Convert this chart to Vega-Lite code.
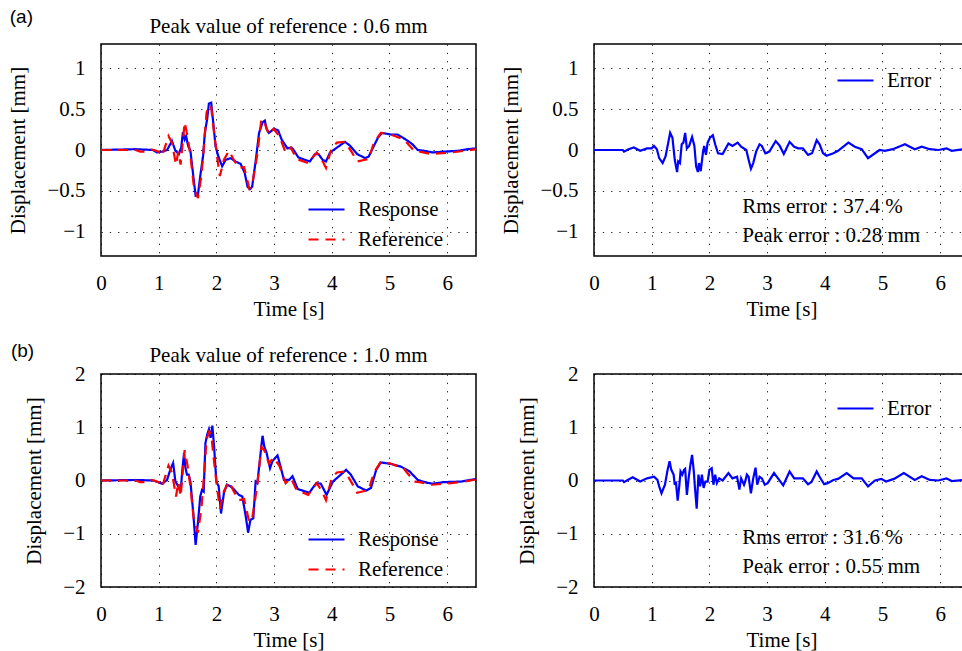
{
"$schema": "https://vega.github.io/schema/vega-lite/v6.json",
"background": "white",
"padding": {"left": 7, "top": 7, "right": 0, "bottom": 0},
"datasets": {
"a": [
{"t":0,"v":0,"s":"Response"},{"t":0.3,"v":0.005,"s":"Response"},{"t":0.6,"v":0.01,"s":"Response"},{"t":0.9,"v":0,"s":"Response"},{"t":0.97,"v":-0.03,"s":"Response"},{"t":1.06,"v":-0.02,"s":"Response"},{"t":1.145,"v":0,"s":"Response"},{"t":1.23,"v":0.11,"s":"Response"},{"t":1.29,"v":-0.01,"s":"Response"},{"t":1.35,"v":-0.05,"s":"Response"},{"t":1.39,"v":0.03,"s":"Response"},{"t":1.42,"v":0.22,"s":"Response"},{"t":1.45,"v":0.13,"s":"Response"},{"t":1.475,"v":0.17,"s":"Response"},{"t":1.51,"v":0.05,"s":"Response"},{"t":1.55,"v":-0.01,"s":"Response"},{"t":1.6,"v":-0.32,"s":"Response"},{"t":1.64,"v":-0.56,"s":"Response"},{"t":1.68,"v":-0.55,"s":"Response"},{"t":1.72,"v":-0.32,"s":"Response"},{"t":1.77,"v":-0.07,"s":"Response"},{"t":1.8,"v":0.21,"s":"Response"},{"t":1.84,"v":0.38,"s":"Response"},{"t":1.87,"v":0.57,"s":"Response"},{"t":1.91,"v":0.58,"s":"Response"},{"t":1.945,"v":0.34,"s":"Response"},{"t":1.985,"v":0.05,"s":"Response"},{"t":2.03,"v":-0.07,"s":"Response"},{"t":2.1,"v":-0.2,"s":"Response"},{"t":2.16,"v":-0.12,"s":"Response"},{"t":2.25,"v":-0.1,"s":"Response"},{"t":2.33,"v":-0.14,"s":"Response"},{"t":2.42,"v":-0.17,"s":"Response"},{"t":2.49,"v":-0.28,"s":"Response"},{"t":2.54,"v":-0.45,"s":"Response"},{"t":2.58,"v":-0.48,"s":"Response"},{"t":2.62,"v":-0.45,"s":"Response"},{"t":2.68,"v":-0.14,"s":"Response"},{"t":2.74,"v":0.21,"s":"Response"},{"t":2.8,"v":0.34,"s":"Response"},{"t":2.84,"v":0.36,"s":"Response"},{"t":2.87,"v":0.26,"s":"Response"},{"t":2.91,"v":0.21,"s":"Response"},{"t":3.0,"v":0.26,"s":"Response"},{"t":3.07,"v":0.24,"s":"Response"},{"t":3.13,"v":0.13,"s":"Response"},{"t":3.23,"v":0.02,"s":"Response"},{"t":3.3,"v":0.03,"s":"Response"},{"t":3.33,"v":0.01,"s":"Response"},{"t":3.42,"v":-0.09,"s":"Response"},{"t":3.53,"v":-0.12,"s":"Response"},{"t":3.62,"v":-0.14,"s":"Response"},{"t":3.71,"v":-0.05,"s":"Response"},{"t":3.77,"v":-0.05,"s":"Response"},{"t":3.84,"v":-0.12,"s":"Response"},{"t":3.9,"v":-0.14,"s":"Response"},{"t":3.97,"v":-0.03,"s":"Response"},{"t":4.09,"v":0.03,"s":"Response"},{"t":4.23,"v":0.1,"s":"Response"},{"t":4.32,"v":0.05,"s":"Response"},{"t":4.44,"v":-0.05,"s":"Response"},{"t":4.58,"v":-0.1,"s":"Response"},{"t":4.64,"v":-0.08,"s":"Response"},{"t":4.73,"v":0.05,"s":"Response"},{"t":4.8,"v":0.15,"s":"Response"},{"t":4.87,"v":0.21,"s":"Response"},{"t":5.02,"v":0.19,"s":"Response"},{"t":5.14,"v":0.19,"s":"Response"},{"t":5.28,"v":0.13,"s":"Response"},{"t":5.4,"v":0.07,"s":"Response"},{"t":5.49,"v":0,"s":"Response"},{"t":5.6,"v":-0.01,"s":"Response"},{"t":5.75,"v":-0.03,"s":"Response"},{"t":5.95,"v":-0.02,"s":"Response"},{"t":6.19,"v":-0.01,"s":"Response"},{"t":6.36,"v":0.01,"s":"Response"},{"t":6.5,"v":0.02,"s":"Response"},
{"t":0,"v":0,"s":"Reference"},{"t":0.45,"v":0,"s":"Reference"},{"t":0.52,"v":0.015,"s":"Reference"},{"t":0.6,"v":0,"s":"Reference"},{"t":0.68,"v":-0.02,"s":"Reference"},{"t":0.76,"v":-0.02,"s":"Reference"},{"t":0.83,"v":0.01,"s":"Reference"},{"t":0.92,"v":0,"s":"Reference"},{"t":1.0,"v":-0.02,"s":"Reference"},{"t":1.06,"v":-0.07,"s":"Reference"},{"t":1.17,"v":0.17,"s":"Reference"},{"t":1.23,"v":0.09,"s":"Reference"},{"t":1.3,"v":-0.18,"s":"Reference"},{"t":1.34,"v":-0.02,"s":"Reference"},{"t":1.38,"v":-0.18,"s":"Reference"},{"t":1.45,"v":0.34,"s":"Reference"},{"t":1.5,"v":0.17,"s":"Reference"},{"t":1.55,"v":-0.07,"s":"Reference"},{"t":1.61,"v":-0.45,"s":"Reference"},{"t":1.68,"v":-0.59,"s":"Reference"},{"t":1.74,"v":-0.32,"s":"Reference"},{"t":1.78,"v":0.01,"s":"Reference"},{"t":1.83,"v":0.46,"s":"Reference"},{"t":1.875,"v":0.55,"s":"Reference"},{"t":1.91,"v":0.52,"s":"Reference"},{"t":1.96,"v":0.21,"s":"Reference"},{"t":2.01,"v":-0.07,"s":"Reference"},{"t":2.06,"v":-0.32,"s":"Reference"},{"t":2.13,"v":-0.12,"s":"Reference"},{"t":2.22,"v":-0.01,"s":"Reference"},{"t":2.3,"v":-0.12,"s":"Reference"},{"t":2.39,"v":-0.22,"s":"Reference"},{"t":2.48,"v":-0.21,"s":"Reference"},{"t":2.57,"v":-0.47,"s":"Reference"},{"t":2.62,"v":-0.43,"s":"Reference"},{"t":2.71,"v":-0.05,"s":"Reference"},{"t":2.78,"v":0.38,"s":"Reference"},{"t":2.83,"v":0.34,"s":"Reference"},{"t":2.91,"v":0.19,"s":"Reference"},{"t":2.99,"v":0.26,"s":"Reference"},{"t":3.09,"v":0.17,"s":"Reference"},{"t":3.2,"v":-0.03,"s":"Reference"},{"t":3.29,"v":0.03,"s":"Reference"},{"t":3.39,"v":-0.11,"s":"Reference"},{"t":3.59,"v":-0.16,"s":"Reference"},{"t":3.74,"v":-0.03,"s":"Reference"},{"t":3.83,"v":-0.12,"s":"Reference"},{"t":3.9,"v":-0.22,"s":"Reference"},{"t":4.0,"v":0.03,"s":"Reference"},{"t":4.09,"v":0.09,"s":"Reference"},{"t":4.23,"v":0.1,"s":"Reference"},{"t":4.35,"v":-0.03,"s":"Reference"},{"t":4.44,"v":-0.14,"s":"Reference"},{"t":4.64,"v":-0.11,"s":"Reference"},{"t":4.73,"v":0.09,"s":"Reference"},{"t":4.85,"v":0.21,"s":"Reference"},{"t":5.02,"v":0.19,"s":"Reference"},{"t":5.25,"v":0.13,"s":"Reference"},{"t":5.43,"v":-0.01,"s":"Reference"},{"t":5.52,"v":-0.02,"s":"Reference"},{"t":5.73,"v":-0.05,"s":"Reference"},{"t":6.07,"v":-0.03,"s":"Reference"},{"t":6.3,"v":-0.01,"s":"Reference"},{"t":6.5,"v":0.01,"s":"Reference"}
],
"ae": [
{"t":0,"v":0},{"t":0.5,"v":0},{"t":0.52,"v":-0.02},{"t":0.6,"v":0.01},{"t":0.69,"v":0.03},{"t":0.8,"v":-0.01},{"t":0.92,"v":0.02},{"t":1.0,"v":0.02},{"t":1.04,"v":0.05},{"t":1.09,"v":0.01},{"t":1.13,"v":-0.1},{"t":1.19,"v":-0.16},{"t":1.24,"v":-0.08},{"t":1.32,"v":0.21},{"t":1.36,"v":0.15},{"t":1.4,"v":-0.12},{"t":1.44,"v":-0.27},{"t":1.46,"v":-0.14},{"t":1.49,"v":-0.16},{"t":1.52,"v":0.07},{"t":1.55,"v":0.09},{"t":1.58,"v":0.21},{"t":1.61,"v":0.02},{"t":1.65,"v":0.05},{"t":1.7,"v":0.16},{"t":1.74,"v":0.05},{"t":1.77,"v":-0.2},{"t":1.8,"v":-0.27},{"t":1.82,"v":-0.16},{"t":1.85,"v":-0.26},{"t":1.89,"v":-0.02},{"t":1.91,"v":0.05},{"t":1.94,"v":-0.06},{"t":1.97,"v":0.09},{"t":2.01,"v":0.15},{"t":2.06,"v":0.18},{"t":2.1,"v":0.07},{"t":2.15,"v":-0.04},{"t":2.23,"v":-0.05},{"t":2.33,"v":0.08},{"t":2.4,"v":0.05},{"t":2.49,"v":0.09},{"t":2.55,"v":0.04},{"t":2.64,"v":0},{"t":2.68,"v":-0.12},{"t":2.72,"v":-0.23},{"t":2.76,"v":-0.16},{"t":2.81,"v":-0.02},{"t":2.87,"v":0.07},{"t":2.91,"v":0.05},{"t":2.97,"v":-0.04},{"t":3.04,"v":-0.02},{"t":3.15,"v":0.11},{"t":3.22,"v":0.05},{"t":3.29,"v":-0.05},{"t":3.39,"v":0.1},{"t":3.47,"v":0.04},{"t":3.54,"v":0.02},{"t":3.62,"v":0.02},{"t":3.71,"v":-0.06},{"t":3.78,"v":-0.04},{"t":3.86,"v":0.12},{"t":3.91,"v":0.07},{"t":3.97,"v":-0.04},{"t":4.03,"v":-0.07},{"t":4.15,"v":-0.04},{"t":4.23,"v":-0.01},{"t":4.41,"v":0.09},{"t":4.52,"v":0.04},{"t":4.64,"v":0.01},{"t":4.75,"v":-0.1},{"t":4.95,"v":0},{"t":5.04,"v":-0.01},{"t":5.18,"v":0.01},{"t":5.39,"v":0.07},{"t":5.56,"v":0.01},{"t":5.68,"v":0.04},{"t":5.82,"v":0.01},{"t":5.97,"v":0},{"t":6.11,"v":0.02},{"t":6.2,"v":-0.01},{"t":6.41,"v":0.01},{"t":6.5,"v":0.01}
],
"b": [
{"t":0,"v":0,"s":"Response"},{"t":0.3,"v":0.005,"s":"Response"},{"t":0.6,"v":0.01,"s":"Response"},{"t":0.91,"v":0,"s":"Response"},{"t":1.06,"v":-0.06,"s":"Response"},{"t":1.145,"v":0.01,"s":"Response"},{"t":1.2,"v":0.2,"s":"Response"},{"t":1.25,"v":0.33,"s":"Response"},{"t":1.29,"v":-0.02,"s":"Response"},{"t":1.34,"v":-0.11,"s":"Response"},{"t":1.38,"v":-0.21,"s":"Response"},{"t":1.41,"v":0.2,"s":"Response"},{"t":1.44,"v":0.52,"s":"Response"},{"t":1.46,"v":0.26,"s":"Response"},{"t":1.49,"v":0.11,"s":"Response"},{"t":1.52,"v":0.11,"s":"Response"},{"t":1.55,"v":-0.02,"s":"Response"},{"t":1.6,"v":-0.62,"s":"Response"},{"t":1.64,"v":-1.21,"s":"Response"},{"t":1.68,"v":-0.8,"s":"Response"},{"t":1.72,"v":-0.3,"s":"Response"},{"t":1.75,"v":-0.18,"s":"Response"},{"t":1.78,"v":-0.21,"s":"Response"},{"t":1.81,"v":0.7,"s":"Response"},{"t":1.84,"v":0.86,"s":"Response"},{"t":1.87,"v":0.96,"s":"Response"},{"t":1.9,"v":0.8,"s":"Response"},{"t":1.93,"v":1.03,"s":"Response"},{"t":1.96,"v":0.64,"s":"Response"},{"t":2.0,"v":-0.02,"s":"Response"},{"t":2.04,"v":-0.11,"s":"Response"},{"t":2.08,"v":-0.62,"s":"Response"},{"t":2.13,"v":-0.24,"s":"Response"},{"t":2.18,"v":-0.08,"s":"Response"},{"t":2.23,"v":-0.1,"s":"Response"},{"t":2.3,"v":-0.16,"s":"Response"},{"t":2.39,"v":-0.27,"s":"Response"},{"t":2.45,"v":-0.3,"s":"Response"},{"t":2.51,"v":-0.68,"s":"Response"},{"t":2.55,"v":-0.98,"s":"Response"},{"t":2.59,"v":-0.74,"s":"Response"},{"t":2.64,"v":-0.71,"s":"Response"},{"t":2.68,"v":-0.02,"s":"Response"},{"t":2.71,"v":-0.05,"s":"Response"},{"t":2.76,"v":0.45,"s":"Response"},{"t":2.8,"v":0.84,"s":"Response"},{"t":2.83,"v":0.64,"s":"Response"},{"t":2.87,"v":0.52,"s":"Response"},{"t":2.93,"v":0.23,"s":"Response"},{"t":2.97,"v":0.36,"s":"Response"},{"t":3.06,"v":0.47,"s":"Response"},{"t":3.12,"v":0.23,"s":"Response"},{"t":3.17,"v":0.01,"s":"Response"},{"t":3.26,"v":0.01,"s":"Response"},{"t":3.32,"v":0.08,"s":"Response"},{"t":3.41,"v":-0.16,"s":"Response"},{"t":3.61,"v":-0.23,"s":"Response"},{"t":3.73,"v":-0.05,"s":"Response"},{"t":3.81,"v":-0.06,"s":"Response"},{"t":3.91,"v":-0.27,"s":"Response"},{"t":4.02,"v":-0.02,"s":"Response"},{"t":4.25,"v":0.2,"s":"Response"},{"t":4.33,"v":0.11,"s":"Response"},{"t":4.45,"v":-0.11,"s":"Response"},{"t":4.6,"v":-0.19,"s":"Response"},{"t":4.68,"v":-0.14,"s":"Response"},{"t":4.77,"v":0.2,"s":"Response"},{"t":4.85,"v":0.34,"s":"Response"},{"t":5.03,"v":0.31,"s":"Response"},{"t":5.2,"v":0.26,"s":"Response"},{"t":5.35,"v":0.17,"s":"Response"},{"t":5.49,"v":0.01,"s":"Response"},{"t":5.64,"v":-0.04,"s":"Response"},{"t":5.75,"v":-0.06,"s":"Response"},{"t":5.95,"v":-0.03,"s":"Response"},{"t":6.24,"v":-0.02,"s":"Response"},{"t":6.5,"v":0.03,"s":"Response"},
{"t":0,"v":0,"s":"Reference"},{"t":0.45,"v":0,"s":"Reference"},{"t":0.52,"v":0.025,"s":"Reference"},{"t":0.6,"v":0,"s":"Reference"},{"t":0.68,"v":-0.03,"s":"Reference"},{"t":0.76,"v":-0.03,"s":"Reference"},{"t":0.83,"v":0.02,"s":"Reference"},{"t":0.92,"v":0,"s":"Reference"},{"t":1.0,"v":-0.03,"s":"Reference"},{"t":1.06,"v":-0.12,"s":"Reference"},{"t":1.17,"v":0.28,"s":"Reference"},{"t":1.23,"v":0.15,"s":"Reference"},{"t":1.3,"v":-0.3,"s":"Reference"},{"t":1.34,"v":-0.03,"s":"Reference"},{"t":1.38,"v":-0.3,"s":"Reference"},{"t":1.45,"v":0.57,"s":"Reference"},{"t":1.5,"v":0.28,"s":"Reference"},{"t":1.55,"v":-0.12,"s":"Reference"},{"t":1.61,"v":-0.75,"s":"Reference"},{"t":1.68,"v":-0.98,"s":"Reference"},{"t":1.74,"v":-0.53,"s":"Reference"},{"t":1.78,"v":0.02,"s":"Reference"},{"t":1.83,"v":0.77,"s":"Reference"},{"t":1.875,"v":0.92,"s":"Reference"},{"t":1.91,"v":0.87,"s":"Reference"},{"t":1.96,"v":0.35,"s":"Reference"},{"t":2.01,"v":-0.12,"s":"Reference"},{"t":2.06,"v":-0.53,"s":"Reference"},{"t":2.13,"v":-0.2,"s":"Reference"},{"t":2.22,"v":-0.02,"s":"Reference"},{"t":2.3,"v":-0.2,"s":"Reference"},{"t":2.39,"v":-0.37,"s":"Reference"},{"t":2.48,"v":-0.35,"s":"Reference"},{"t":2.57,"v":-0.78,"s":"Reference"},{"t":2.62,"v":-0.72,"s":"Reference"},{"t":2.71,"v":-0.08,"s":"Reference"},{"t":2.78,"v":0.63,"s":"Reference"},{"t":2.83,"v":0.57,"s":"Reference"},{"t":2.91,"v":0.32,"s":"Reference"},{"t":2.99,"v":0.43,"s":"Reference"},{"t":3.09,"v":0.28,"s":"Reference"},{"t":3.2,"v":-0.05,"s":"Reference"},{"t":3.29,"v":0.05,"s":"Reference"},{"t":3.39,"v":-0.18,"s":"Reference"},{"t":3.59,"v":-0.27,"s":"Reference"},{"t":3.74,"v":-0.05,"s":"Reference"},{"t":3.83,"v":-0.2,"s":"Reference"},{"t":3.9,"v":-0.37,"s":"Reference"},{"t":4.0,"v":0.05,"s":"Reference"},{"t":4.09,"v":0.15,"s":"Reference"},{"t":4.23,"v":0.17,"s":"Reference"},{"t":4.35,"v":-0.05,"s":"Reference"},{"t":4.44,"v":-0.23,"s":"Reference"},{"t":4.64,"v":-0.18,"s":"Reference"},{"t":4.73,"v":0.15,"s":"Reference"},{"t":4.85,"v":0.35,"s":"Reference"},{"t":5.02,"v":0.32,"s":"Reference"},{"t":5.25,"v":0.22,"s":"Reference"},{"t":5.43,"v":-0.02,"s":"Reference"},{"t":5.52,"v":-0.03,"s":"Reference"},{"t":5.73,"v":-0.08,"s":"Reference"},{"t":6.07,"v":-0.05,"s":"Reference"},{"t":6.3,"v":-0.02,"s":"Reference"},{"t":6.5,"v":0.02,"s":"Reference"}
],
"be": [
{"t":0,"v":0},{"t":0.5,"v":0},{"t":0.52,"v":-0.03},{"t":0.6,"v":0.02},{"t":0.67,"v":0.06},{"t":0.8,"v":-0.02},{"t":0.92,"v":0.04},{"t":1.04,"v":0.07},{"t":1.1,"v":0.01},{"t":1.13,"v":-0.11},{"t":1.17,"v":-0.24},{"t":1.23,"v":-0.08},{"t":1.27,"v":0.17},{"t":1.31,"v":0.36},{"t":1.34,"v":0.2},{"t":1.38,"v":0.11},{"t":1.4,"v":-0.08},{"t":1.42,"v":-0.02},{"t":1.45,"v":-0.38},{"t":1.48,"v":-0.08},{"t":1.5,"v":0.17},{"t":1.53,"v":0.11},{"t":1.56,"v":0.2},{"t":1.58,"v":0.22},{"t":1.61,"v":-0.27},{"t":1.64,"v":0.04},{"t":1.67,"v":0.29},{"t":1.7,"v":0.48},{"t":1.73,"v":0.17},{"t":1.75,"v":-0.14},{"t":1.78,"v":-0.53},{"t":1.81,"v":0.11},{"t":1.84,"v":-0.11},{"t":1.87,"v":0.11},{"t":1.9,"v":-0.14},{"t":1.93,"v":-0.02},{"t":1.97,"v":-0.02},{"t":2.0,"v":0.2},{"t":2.04,"v":0.23},{"t":2.07,"v":-0.08},{"t":2.1,"v":0.11},{"t":2.13,"v":-0.05},{"t":2.17,"v":0.04},{"t":2.23,"v":0},{"t":2.33,"v":0.14},{"t":2.4,"v":0.04},{"t":2.48,"v":0.07},{"t":2.52,"v":-0.17},{"t":2.55,"v":0.04},{"t":2.6,"v":-0.08},{"t":2.62,"v":-0.02},{"t":2.65,"v":0.11},{"t":2.68,"v":0.07},{"t":2.72,"v":-0.24},{"t":2.76,"v":0.04},{"t":2.8,"v":0.24},{"t":2.83,"v":-0.08},{"t":2.87,"v":0.07},{"t":2.91,"v":0.04},{"t":2.96,"v":-0.08},{"t":3.01,"v":-0.05},{"t":3.12,"v":0.14},{"t":3.19,"v":0.04},{"t":3.28,"v":-0.09},{"t":3.39,"v":0.17},{"t":3.47,"v":0.04},{"t":3.55,"v":0.04},{"t":3.62,"v":0.04},{"t":3.71,"v":-0.07},{"t":3.77,"v":-0.03},{"t":3.86,"v":0.17},{"t":3.91,"v":0.07},{"t":3.99,"v":-0.07},{"t":4.05,"v":-0.05},{"t":4.15,"v":0.01},{"t":4.23,"v":0.03},{"t":4.38,"v":0.14},{"t":4.5,"v":0.04},{"t":4.64,"v":0.04},{"t":4.75,"v":-0.11},{"t":4.87,"v":0},{"t":4.98,"v":0.03},{"t":5.06,"v":-0.02},{"t":5.2,"v":0.03},{"t":5.37,"v":0.14},{"t":5.56,"v":0.01},{"t":5.68,"v":0.08},{"t":5.82,"v":0.01},{"t":5.97,"v":0},{"t":6.11,"v":0.04},{"t":6.2,"v":-0.01},{"t":6.41,"v":0.01},{"t":6.5,"v":0.01}
],
"labels": [{"a": "(a)", "b": "(b)", "ta": "Peak value of reference : 0.6 mm", "tb": "Peak value of reference : 1.0 mm", "r1": "Rms error : 37.4 %", "p1": "Peak error : 0.28 mm", "r2": "Rms error : 31.6 %", "p2": "Peak error : 0.55 mm"}]
},
"config": {
"font": "Liberation Serif",
"view": {"stroke": "black", "strokeWidth": 1.5},
"axis": {"labelFont": "Liberation Serif", "titleFont": "Liberation Serif", "labelFontSize": 21, "titleFontSize": 21, "titleFontWeight": "normal", "labelColor": "black", "titleColor": "black", "labelFlush": false, "domain": false, "ticks": false, "grid": true, "gridColor": "black", "gridDash": [1.3, 7], "gridWidth": 1, "gridOpacity": 0.85},
"axisX": {"labelPadding": 16, "titlePadding": 5},
"axisY": {"labelPadding": 16, "titlePadding": 18},
"legend": {"labelFont": "Liberation Serif", "labelFontSize": 21, "labelColor": "black", "symbolType": "stroke", "symbolSize": 1296, "symbolStrokeWidth": 2.2, "labelOffset": 12, "rowPadding": -8, "padding": 0, "orient": "none"},
"text": {"font": "Liberation Serif", "fontSize": 21, "color": "black"}
},
"columns": 2,
"bounds": "flush",
"spacing": {"row": 118, "column": 118},
"resolve": {"scale": {"color": "independent", "strokeDash": "independent", "x": "independent", "y": "independent"}, "legend": {"color": "independent", "strokeDash": "independent"}},
"concat": [
{
"width": 375, "height": 212,
"layer": [
{"data": {"name": "a"}, "transform": [{"filter": "datum.s === 'Response'"}], "mark": {"type": "line", "strokeWidth": 2.2},
 "encoding": {
  "x": {"field": "t", "type": "quantitative", "scale": {"domain": [0, 6.5], "nice": false, "zero": false}, "axis": {"values": [0,1,2,3,4,5,6], "format": "~g", "title": "Time [s]"}},
  "y": {"field": "v", "type": "quantitative", "scale": {"domain": [-1.3, 1.3], "nice": false}, "axis": {"values": [-1,-0.5,0,0.5,1], "format": "~g", "title": "Displacement [mm]"}},
  "color": {"field": "s", "type": "nominal", "scale": {"domain": ["Response", "Reference"], "range": ["#0000ff", "#ff0000"]}, "legend": {"title": null, "legendX": 206, "legendY": 146}},
  "strokeDash": {"field": "s", "type": "nominal", "scale": {"domain": ["Response", "Reference"], "range": [[1, 0], [10, 7]]}, "legend": {"title": null, "legendX": 206, "legendY": 146}}
 }},
{"data": {"name": "a"}, "transform": [{"filter": "datum.s === 'Reference'"}], "mark": {"type": "line", "strokeWidth": 2.2},
 "encoding": {
  "x": {"field": "t", "type": "quantitative"},
  "y": {"field": "v", "type": "quantitative"},
  "color": {"field": "s", "type": "nominal"},
  "strokeDash": {"field": "s", "type": "nominal"}
 }},
{"data": {"name": "labels"}, "mark": {"type": "text", "font": "Liberation Sans", "fontSize": 19, "align": "center", "baseline": "middle"},
 "encoding": {"x": {"datum": -1.38, "type": "quantitative"}, "y": {"datum": 1.634, "type": "quantitative"}, "text": {"field": "a"}}},
{"data": {"name": "labels"}, "mark": {"type": "text", "align": "center", "baseline": "middle"},
 "encoding": {"x": {"datum": 3.25, "type": "quantitative"}, "y": {"datum": 1.505, "type": "quantitative"}, "text": {"field": "ta"}}}
]
},
{
"width": 375, "height": 212,
"layer": [
{"data": {"name": "ae"}, "mark": {"type": "line", "strokeWidth": 2.2},
 "encoding": {
  "x": {"field": "t", "type": "quantitative", "scale": {"domain": [0, 6.5], "nice": false, "zero": false}, "axis": {"values": [0,1,2,3,4,5,6], "format": "~g", "title": "Time [s]"}},
  "y": {"field": "v", "type": "quantitative", "scale": {"domain": [-1.3, 1.3], "nice": false}, "axis": {"values": [-1,-0.5,0,0.5,1], "format": "~g", "title": "Displacement [mm]"}},
  "color": {"datum": "Error", "type": "nominal", "scale": {"domain": ["Error"], "range": ["#0000ff"]}, "legend": {"title": null, "legendX": 242, "legendY": 17}}
 }},
{"data": {"name": "labels"}, "mark": {"type": "text", "align": "left", "baseline": "middle"},
 "encoding": {"x": {"datum": 2.57, "type": "quantitative"}, "y": {"datum": -0.70, "type": "quantitative"}, "text": {"field": "r1"}}},
{"data": {"name": "labels"}, "mark": {"type": "text", "align": "left", "baseline": "middle"},
 "encoding": {"x": {"datum": 2.57, "type": "quantitative"}, "y": {"datum": -1.06, "type": "quantitative"}, "text": {"field": "p1"}}}
]
},
{
"width": 375, "height": 213,
"layer": [
{"data": {"name": "b"}, "transform": [{"filter": "datum.s === 'Response'"}], "mark": {"type": "line", "strokeWidth": 2.2},
 "encoding": {
  "x": {"field": "t", "type": "quantitative", "scale": {"domain": [0, 6.5], "nice": false, "zero": false}, "axis": {"values": [0,1,2,3,4,5,6], "format": "~g", "title": "Time [s]"}},
  "y": {"field": "v", "type": "quantitative", "scale": {"domain": [-2, 2], "nice": false}, "axis": {"values": [-2,-1,0,1,2], "format": "~g", "title": "Displacement [mm]"}},
  "color": {"field": "s", "type": "nominal", "scale": {"domain": ["Response", "Reference"], "range": ["#0000ff", "#ff0000"]}, "legend": {"title": null, "legendX": 206, "legendY": 146}},
  "strokeDash": {"field": "s", "type": "nominal", "scale": {"domain": ["Response", "Reference"], "range": [[1, 0], [10, 7]]}, "legend": {"title": null, "legendX": 206, "legendY": 146}}
 }},
{"data": {"name": "b"}, "transform": [{"filter": "datum.s === 'Reference'"}], "mark": {"type": "line", "strokeWidth": 2.2},
 "encoding": {
  "x": {"field": "t", "type": "quantitative"},
  "y": {"field": "v", "type": "quantitative"},
  "color": {"field": "s", "type": "nominal"},
  "strokeDash": {"field": "s", "type": "nominal"}
 }},
{"data": {"name": "labels"}, "mark": {"type": "text", "font": "Liberation Sans", "fontSize": 19, "align": "center", "baseline": "middle"},
 "encoding": {"x": {"datum": -1.36, "type": "quantitative"}, "y": {"datum": 2.44, "type": "quantitative"}, "text": {"field": "b"}}},
{"data": {"name": "labels"}, "mark": {"type": "text", "align": "center", "baseline": "middle"},
 "encoding": {"x": {"datum": 3.25, "type": "quantitative"}, "y": {"datum": 2.33, "type": "quantitative"}, "text": {"field": "tb"}}}
]
},
{
"width": 375, "height": 213,
"layer": [
{"data": {"name": "be"}, "mark": {"type": "line", "strokeWidth": 2.2},
 "encoding": {
  "x": {"field": "t", "type": "quantitative", "scale": {"domain": [0, 6.5], "nice": false, "zero": false}, "axis": {"values": [0,1,2,3,4,5,6], "format": "~g", "title": "Time [s]"}},
  "y": {"field": "v", "type": "quantitative", "scale": {"domain": [-2, 2], "nice": false}, "axis": {"values": [-2,-1,0,1,2], "format": "~g", "title": "Displacement [mm]"}},
  "color": {"datum": "Error", "type": "nominal", "scale": {"domain": ["Error"], "range": ["#0000ff"]}, "legend": {"title": null, "legendX": 242, "legendY": 15}}
 }},
{"data": {"name": "labels"}, "mark": {"type": "text", "align": "left", "baseline": "middle"},
 "encoding": {"x": {"datum": 2.57, "type": "quantitative"}, "y": {"datum": -1.08, "type": "quantitative"}, "text": {"field": "r2"}}},
{"data": {"name": "labels"}, "mark": {"type": "text", "align": "left", "baseline": "middle"},
 "encoding": {"x": {"datum": 2.57, "type": "quantitative"}, "y": {"datum": -1.63, "type": "quantitative"}, "text": {"field": "p2"}}}
]
}
]
}
